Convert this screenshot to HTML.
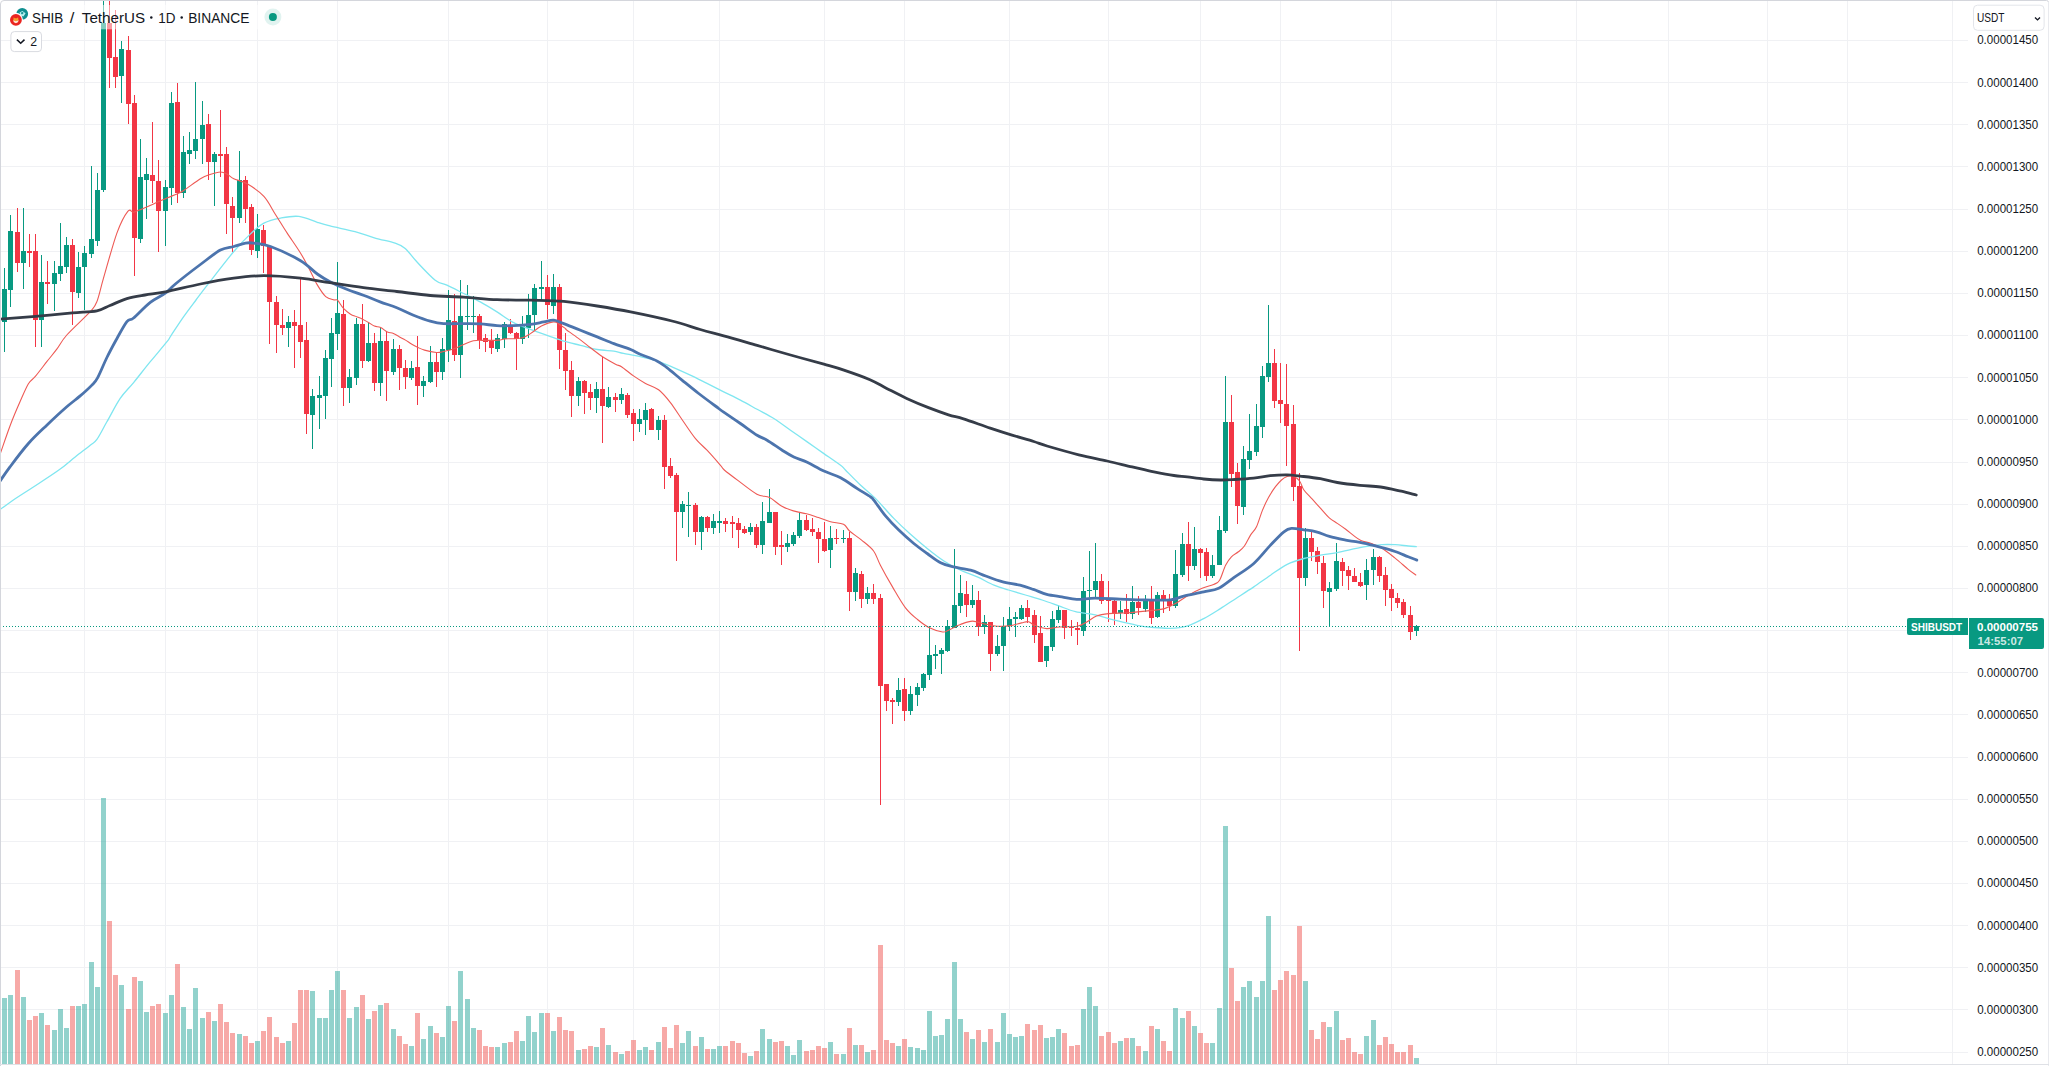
<!DOCTYPE html><html><head><meta charset="utf-8"><title>SHIBUSDT</title>
<style>html,body{margin:0;padding:0;background:#fff;}body{width:2049px;height:1066px;overflow:hidden;position:relative;font-family:"Liberation Sans",sans-serif;}svg{position:absolute;left:0;top:0;display:block}text{font-family:"Liberation Sans",sans-serif;}</style></head><body>
<svg width="2049" height="1066" viewBox="0 0 2049 1066">
<rect width="2049" height="1066" fill="#fff"/>
<g fill="#f0f1f4" shape-rendering="crispEdges">
<rect x="84" y="0" width="1" height="1064"/>
<rect x="165" y="0" width="1" height="1064"/>
<rect x="257" y="0" width="1" height="1064"/>
<rect x="337" y="0" width="1" height="1064"/>
<rect x="448" y="0" width="1" height="1064"/>
<rect x="547" y="0" width="1" height="1064"/>
<rect x="633" y="0" width="1" height="1064"/>
<rect x="719" y="0" width="1" height="1064"/>
<rect x="824" y="0" width="1" height="1064"/>
<rect x="904" y="0" width="1" height="1064"/>
<rect x="1009" y="0" width="1" height="1064"/>
<rect x="1108" y="0" width="1" height="1064"/>
<rect x="1200" y="0" width="1" height="1064"/>
<rect x="1280" y="0" width="1" height="1064"/>
<rect x="1391" y="0" width="1" height="1064"/>
<rect x="1496" y="0" width="1" height="1064"/>
<rect x="1576" y="0" width="1" height="1064"/>
<rect x="1668" y="0" width="1" height="1064"/>
<rect x="1767" y="0" width="1" height="1064"/>
<rect x="1847" y="0" width="1" height="1064"/>
<rect x="1952" y="0" width="1" height="1064"/>
<rect x="0" y="40" width="1968" height="1"/>
<rect x="0" y="82" width="1968" height="1"/>
<rect x="0" y="124" width="1968" height="1"/>
<rect x="0" y="166" width="1968" height="1"/>
<rect x="0" y="209" width="1968" height="1"/>
<rect x="0" y="251" width="1968" height="1"/>
<rect x="0" y="293" width="1968" height="1"/>
<rect x="0" y="335" width="1968" height="1"/>
<rect x="0" y="377" width="1968" height="1"/>
<rect x="0" y="419" width="1968" height="1"/>
<rect x="0" y="462" width="1968" height="1"/>
<rect x="0" y="504" width="1968" height="1"/>
<rect x="0" y="546" width="1968" height="1"/>
<rect x="0" y="588" width="1968" height="1"/>
<rect x="0" y="630" width="1968" height="1"/>
<rect x="0" y="672" width="1968" height="1"/>
<rect x="0" y="714" width="1968" height="1"/>
<rect x="0" y="757" width="1968" height="1"/>
<rect x="0" y="799" width="1968" height="1"/>
<rect x="0" y="841" width="1968" height="1"/>
<rect x="0" y="883" width="1968" height="1"/>
<rect x="0" y="925" width="1968" height="1"/>
<rect x="0" y="967" width="1968" height="1"/>
<rect x="0" y="1009" width="1968" height="1"/>
<rect x="0" y="1052" width="1968" height="1"/>
</g>
<g shape-rendering="crispEdges" fill-opacity="0.5">
<rect x="2" y="998" width="5" height="66" fill="#26a69a"/>
<rect x="8" y="995" width="5" height="69" fill="#26a69a"/>
<rect x="15" y="970" width="5" height="94" fill="#ef5350"/>
<rect x="21" y="997" width="5" height="67" fill="#26a69a"/>
<rect x="27" y="1020" width="5" height="44" fill="#ef5350"/>
<rect x="33" y="1016" width="5" height="48" fill="#ef5350"/>
<rect x="39" y="1013" width="5" height="51" fill="#26a69a"/>
<rect x="45" y="1025" width="5" height="39" fill="#ef5350"/>
<rect x="52" y="1030" width="5" height="34" fill="#26a69a"/>
<rect x="58" y="1009" width="5" height="55" fill="#26a69a"/>
<rect x="64" y="1028" width="5" height="36" fill="#26a69a"/>
<rect x="70" y="1006" width="5" height="58" fill="#ef5350"/>
<rect x="76" y="1006" width="5" height="58" fill="#26a69a"/>
<rect x="82" y="1004" width="5" height="60" fill="#26a69a"/>
<rect x="89" y="962" width="5" height="102" fill="#26a69a"/>
<rect x="95" y="987" width="5" height="77" fill="#26a69a"/>
<rect x="101" y="798" width="5" height="266" fill="#26a69a"/>
<rect x="107" y="921" width="5" height="143" fill="#ef5350"/>
<rect x="113" y="975" width="5" height="89" fill="#ef5350"/>
<rect x="119" y="985" width="5" height="79" fill="#26a69a"/>
<rect x="126" y="1009" width="5" height="55" fill="#ef5350"/>
<rect x="132" y="977" width="5" height="87" fill="#ef5350"/>
<rect x="138" y="981" width="5" height="83" fill="#26a69a"/>
<rect x="144" y="1012" width="5" height="52" fill="#26a69a"/>
<rect x="150" y="1006" width="5" height="58" fill="#ef5350"/>
<rect x="156" y="1004" width="5" height="60" fill="#ef5350"/>
<rect x="163" y="1013" width="5" height="51" fill="#26a69a"/>
<rect x="169" y="995" width="5" height="69" fill="#26a69a"/>
<rect x="175" y="964" width="5" height="100" fill="#ef5350"/>
<rect x="181" y="1007" width="5" height="57" fill="#26a69a"/>
<rect x="187" y="1029" width="5" height="35" fill="#26a69a"/>
<rect x="193" y="988" width="5" height="76" fill="#26a69a"/>
<rect x="200" y="1018" width="5" height="46" fill="#26a69a"/>
<rect x="206" y="1012" width="5" height="52" fill="#ef5350"/>
<rect x="212" y="1021" width="5" height="43" fill="#26a69a"/>
<rect x="218" y="1004" width="5" height="60" fill="#ef5350"/>
<rect x="224" y="1022" width="5" height="42" fill="#ef5350"/>
<rect x="230" y="1033" width="5" height="31" fill="#ef5350"/>
<rect x="237" y="1034" width="5" height="30" fill="#26a69a"/>
<rect x="243" y="1036" width="5" height="28" fill="#ef5350"/>
<rect x="249" y="1043" width="5" height="21" fill="#ef5350"/>
<rect x="255" y="1041" width="5" height="23" fill="#26a69a"/>
<rect x="261" y="1031" width="5" height="33" fill="#ef5350"/>
<rect x="267" y="1017" width="5" height="47" fill="#ef5350"/>
<rect x="274" y="1037" width="5" height="27" fill="#ef5350"/>
<rect x="280" y="1043" width="5" height="21" fill="#ef5350"/>
<rect x="286" y="1041" width="5" height="23" fill="#26a69a"/>
<rect x="292" y="1023" width="5" height="41" fill="#ef5350"/>
<rect x="298" y="990" width="5" height="74" fill="#ef5350"/>
<rect x="304" y="990" width="5" height="74" fill="#ef5350"/>
<rect x="310" y="991" width="5" height="73" fill="#26a69a"/>
<rect x="317" y="1018" width="5" height="46" fill="#26a69a"/>
<rect x="323" y="1018" width="5" height="46" fill="#26a69a"/>
<rect x="329" y="990" width="5" height="74" fill="#26a69a"/>
<rect x="335" y="971" width="5" height="93" fill="#26a69a"/>
<rect x="341" y="990" width="5" height="74" fill="#ef5350"/>
<rect x="347" y="1018" width="5" height="46" fill="#26a69a"/>
<rect x="354" y="1007" width="5" height="57" fill="#26a69a"/>
<rect x="360" y="995" width="5" height="69" fill="#ef5350"/>
<rect x="366" y="1019" width="5" height="45" fill="#26a69a"/>
<rect x="372" y="1011" width="5" height="53" fill="#ef5350"/>
<rect x="378" y="1005" width="5" height="59" fill="#26a69a"/>
<rect x="384" y="1003" width="5" height="61" fill="#ef5350"/>
<rect x="391" y="1029" width="5" height="35" fill="#26a69a"/>
<rect x="397" y="1036" width="5" height="28" fill="#ef5350"/>
<rect x="403" y="1044" width="5" height="20" fill="#ef5350"/>
<rect x="409" y="1046" width="5" height="18" fill="#26a69a"/>
<rect x="415" y="1013" width="5" height="51" fill="#ef5350"/>
<rect x="421" y="1039" width="5" height="25" fill="#26a69a"/>
<rect x="428" y="1026" width="5" height="38" fill="#26a69a"/>
<rect x="434" y="1033" width="5" height="31" fill="#ef5350"/>
<rect x="440" y="1037" width="5" height="27" fill="#26a69a"/>
<rect x="446" y="1006" width="5" height="58" fill="#26a69a"/>
<rect x="452" y="1021" width="5" height="43" fill="#ef5350"/>
<rect x="458" y="971" width="5" height="93" fill="#26a69a"/>
<rect x="465" y="999" width="5" height="65" fill="#26a69a"/>
<rect x="471" y="1028" width="5" height="36" fill="#26a69a"/>
<rect x="477" y="1030" width="5" height="34" fill="#ef5350"/>
<rect x="483" y="1046" width="5" height="18" fill="#ef5350"/>
<rect x="489" y="1047" width="5" height="17" fill="#ef5350"/>
<rect x="495" y="1047" width="5" height="17" fill="#26a69a"/>
<rect x="502" y="1043" width="5" height="21" fill="#26a69a"/>
<rect x="508" y="1042" width="5" height="22" fill="#ef5350"/>
<rect x="514" y="1031" width="5" height="33" fill="#ef5350"/>
<rect x="520" y="1041" width="5" height="23" fill="#26a69a"/>
<rect x="526" y="1016" width="5" height="48" fill="#26a69a"/>
<rect x="532" y="1032" width="5" height="32" fill="#26a69a"/>
<rect x="539" y="1013" width="5" height="51" fill="#26a69a"/>
<rect x="545" y="1013" width="5" height="51" fill="#ef5350"/>
<rect x="551" y="1031" width="5" height="33" fill="#26a69a"/>
<rect x="557" y="1017" width="5" height="47" fill="#ef5350"/>
<rect x="563" y="1030" width="5" height="34" fill="#ef5350"/>
<rect x="569" y="1031" width="5" height="33" fill="#ef5350"/>
<rect x="576" y="1050" width="5" height="14" fill="#26a69a"/>
<rect x="582" y="1049" width="5" height="15" fill="#ef5350"/>
<rect x="588" y="1046" width="5" height="18" fill="#ef5350"/>
<rect x="594" y="1047" width="5" height="17" fill="#26a69a"/>
<rect x="600" y="1028" width="5" height="36" fill="#ef5350"/>
<rect x="606" y="1045" width="5" height="19" fill="#26a69a"/>
<rect x="613" y="1052" width="5" height="12" fill="#ef5350"/>
<rect x="619" y="1054" width="5" height="10" fill="#26a69a"/>
<rect x="625" y="1051" width="5" height="13" fill="#ef5350"/>
<rect x="631" y="1040" width="5" height="24" fill="#ef5350"/>
<rect x="637" y="1050" width="5" height="14" fill="#26a69a"/>
<rect x="643" y="1047" width="5" height="17" fill="#26a69a"/>
<rect x="649" y="1050" width="5" height="14" fill="#ef5350"/>
<rect x="656" y="1042" width="5" height="22" fill="#26a69a"/>
<rect x="662" y="1027" width="5" height="37" fill="#ef5350"/>
<rect x="668" y="1048" width="5" height="16" fill="#ef5350"/>
<rect x="674" y="1025" width="5" height="39" fill="#ef5350"/>
<rect x="680" y="1043" width="5" height="21" fill="#26a69a"/>
<rect x="686" y="1031" width="5" height="33" fill="#26a69a"/>
<rect x="693" y="1046" width="5" height="18" fill="#ef5350"/>
<rect x="699" y="1037" width="5" height="27" fill="#26a69a"/>
<rect x="705" y="1049" width="5" height="15" fill="#ef5350"/>
<rect x="711" y="1049" width="5" height="15" fill="#26a69a"/>
<rect x="717" y="1046" width="5" height="18" fill="#26a69a"/>
<rect x="723" y="1046" width="5" height="18" fill="#ef5350"/>
<rect x="730" y="1041" width="5" height="23" fill="#ef5350"/>
<rect x="736" y="1043" width="5" height="21" fill="#ef5350"/>
<rect x="742" y="1053" width="5" height="11" fill="#ef5350"/>
<rect x="748" y="1056" width="5" height="8" fill="#26a69a"/>
<rect x="754" y="1051" width="5" height="13" fill="#ef5350"/>
<rect x="760" y="1029" width="5" height="35" fill="#26a69a"/>
<rect x="767" y="1039" width="5" height="25" fill="#26a69a"/>
<rect x="773" y="1042" width="5" height="22" fill="#ef5350"/>
<rect x="779" y="1041" width="5" height="23" fill="#ef5350"/>
<rect x="785" y="1046" width="5" height="18" fill="#26a69a"/>
<rect x="791" y="1055" width="5" height="9" fill="#26a69a"/>
<rect x="797" y="1040" width="5" height="24" fill="#26a69a"/>
<rect x="804" y="1051" width="5" height="13" fill="#ef5350"/>
<rect x="810" y="1050" width="5" height="14" fill="#ef5350"/>
<rect x="816" y="1046" width="5" height="18" fill="#ef5350"/>
<rect x="822" y="1048" width="5" height="16" fill="#ef5350"/>
<rect x="828" y="1042" width="5" height="22" fill="#26a69a"/>
<rect x="834" y="1054" width="5" height="10" fill="#ef5350"/>
<rect x="841" y="1054" width="5" height="10" fill="#26a69a"/>
<rect x="847" y="1028" width="5" height="36" fill="#ef5350"/>
<rect x="853" y="1045" width="5" height="19" fill="#26a69a"/>
<rect x="859" y="1045" width="5" height="19" fill="#ef5350"/>
<rect x="865" y="1052" width="5" height="12" fill="#26a69a"/>
<rect x="871" y="1050" width="5" height="14" fill="#ef5350"/>
<rect x="878" y="945" width="5" height="119" fill="#ef5350"/>
<rect x="884" y="1040" width="5" height="24" fill="#ef5350"/>
<rect x="890" y="1043" width="5" height="21" fill="#ef5350"/>
<rect x="896" y="1046" width="5" height="18" fill="#26a69a"/>
<rect x="902" y="1039" width="5" height="25" fill="#ef5350"/>
<rect x="908" y="1047" width="5" height="17" fill="#26a69a"/>
<rect x="915" y="1048" width="5" height="16" fill="#26a69a"/>
<rect x="921" y="1050" width="5" height="14" fill="#26a69a"/>
<rect x="927" y="1011" width="5" height="53" fill="#26a69a"/>
<rect x="933" y="1036" width="5" height="28" fill="#26a69a"/>
<rect x="939" y="1035" width="5" height="29" fill="#26a69a"/>
<rect x="945" y="1019" width="5" height="45" fill="#26a69a"/>
<rect x="952" y="962" width="5" height="102" fill="#26a69a"/>
<rect x="958" y="1019" width="5" height="45" fill="#26a69a"/>
<rect x="964" y="1032" width="5" height="32" fill="#ef5350"/>
<rect x="970" y="1039" width="5" height="25" fill="#26a69a"/>
<rect x="976" y="1030" width="5" height="34" fill="#ef5350"/>
<rect x="982" y="1042" width="5" height="22" fill="#26a69a"/>
<rect x="988" y="1029" width="5" height="35" fill="#ef5350"/>
<rect x="995" y="1042" width="5" height="22" fill="#26a69a"/>
<rect x="1001" y="1013" width="5" height="51" fill="#26a69a"/>
<rect x="1007" y="1034" width="5" height="30" fill="#26a69a"/>
<rect x="1013" y="1037" width="5" height="27" fill="#26a69a"/>
<rect x="1019" y="1036" width="5" height="28" fill="#26a69a"/>
<rect x="1025" y="1024" width="5" height="40" fill="#ef5350"/>
<rect x="1032" y="1030" width="5" height="34" fill="#ef5350"/>
<rect x="1038" y="1025" width="5" height="39" fill="#ef5350"/>
<rect x="1044" y="1038" width="5" height="26" fill="#26a69a"/>
<rect x="1050" y="1037" width="5" height="27" fill="#26a69a"/>
<rect x="1056" y="1029" width="5" height="35" fill="#26a69a"/>
<rect x="1062" y="1033" width="5" height="31" fill="#ef5350"/>
<rect x="1069" y="1046" width="5" height="18" fill="#ef5350"/>
<rect x="1075" y="1045" width="5" height="19" fill="#ef5350"/>
<rect x="1081" y="1009" width="5" height="55" fill="#26a69a"/>
<rect x="1087" y="987" width="5" height="77" fill="#26a69a"/>
<rect x="1093" y="1006" width="5" height="58" fill="#26a69a"/>
<rect x="1099" y="1036" width="5" height="28" fill="#ef5350"/>
<rect x="1106" y="1032" width="5" height="32" fill="#ef5350"/>
<rect x="1112" y="1043" width="5" height="21" fill="#ef5350"/>
<rect x="1118" y="1041" width="5" height="23" fill="#26a69a"/>
<rect x="1124" y="1038" width="5" height="26" fill="#ef5350"/>
<rect x="1130" y="1038" width="5" height="26" fill="#26a69a"/>
<rect x="1136" y="1046" width="5" height="18" fill="#ef5350"/>
<rect x="1143" y="1051" width="5" height="13" fill="#26a69a"/>
<rect x="1149" y="1026" width="5" height="38" fill="#ef5350"/>
<rect x="1155" y="1029" width="5" height="35" fill="#26a69a"/>
<rect x="1161" y="1041" width="5" height="23" fill="#ef5350"/>
<rect x="1167" y="1051" width="5" height="13" fill="#ef5350"/>
<rect x="1173" y="1008" width="5" height="56" fill="#26a69a"/>
<rect x="1180" y="1018" width="5" height="46" fill="#26a69a"/>
<rect x="1186" y="1011" width="5" height="53" fill="#ef5350"/>
<rect x="1192" y="1026" width="5" height="38" fill="#26a69a"/>
<rect x="1198" y="1033" width="5" height="31" fill="#ef5350"/>
<rect x="1204" y="1043" width="5" height="21" fill="#ef5350"/>
<rect x="1210" y="1043" width="5" height="21" fill="#26a69a"/>
<rect x="1217" y="1008" width="5" height="56" fill="#26a69a"/>
<rect x="1223" y="826" width="5" height="238" fill="#26a69a"/>
<rect x="1229" y="968" width="5" height="96" fill="#ef5350"/>
<rect x="1235" y="1001" width="5" height="63" fill="#ef5350"/>
<rect x="1241" y="987" width="5" height="77" fill="#26a69a"/>
<rect x="1247" y="981" width="5" height="83" fill="#26a69a"/>
<rect x="1254" y="997" width="5" height="67" fill="#26a69a"/>
<rect x="1260" y="981" width="5" height="83" fill="#26a69a"/>
<rect x="1266" y="916" width="5" height="148" fill="#26a69a"/>
<rect x="1272" y="990" width="5" height="74" fill="#ef5350"/>
<rect x="1278" y="980" width="5" height="84" fill="#ef5350"/>
<rect x="1284" y="971" width="5" height="93" fill="#ef5350"/>
<rect x="1291" y="975" width="5" height="89" fill="#ef5350"/>
<rect x="1297" y="926" width="5" height="138" fill="#ef5350"/>
<rect x="1303" y="981" width="5" height="83" fill="#26a69a"/>
<rect x="1309" y="1030" width="5" height="34" fill="#ef5350"/>
<rect x="1315" y="1039" width="5" height="25" fill="#ef5350"/>
<rect x="1321" y="1022" width="5" height="42" fill="#ef5350"/>
<rect x="1327" y="1027" width="5" height="37" fill="#26a69a"/>
<rect x="1334" y="1011" width="5" height="53" fill="#26a69a"/>
<rect x="1340" y="1040" width="5" height="24" fill="#ef5350"/>
<rect x="1346" y="1038" width="5" height="26" fill="#ef5350"/>
<rect x="1352" y="1052" width="5" height="12" fill="#ef5350"/>
<rect x="1358" y="1054" width="5" height="10" fill="#ef5350"/>
<rect x="1364" y="1036" width="5" height="28" fill="#26a69a"/>
<rect x="1371" y="1020" width="5" height="44" fill="#26a69a"/>
<rect x="1377" y="1045" width="5" height="19" fill="#ef5350"/>
<rect x="1383" y="1037" width="5" height="27" fill="#ef5350"/>
<rect x="1389" y="1044" width="5" height="20" fill="#ef5350"/>
<rect x="1395" y="1052" width="5" height="12" fill="#ef5350"/>
<rect x="1401" y="1052" width="5" height="12" fill="#ef5350"/>
<rect x="1408" y="1045" width="5" height="19" fill="#ef5350"/>
<rect x="1414" y="1058" width="5" height="6" fill="#26a69a"/>
</g>
<g shape-rendering="crispEdges">
<rect x="4" y="268" width="1" height="84" fill="#089981"/>
<rect x="2" y="289" width="5" height="33" fill="#089981"/>
<rect x="10" y="215" width="1" height="92" fill="#089981"/>
<rect x="8" y="231" width="5" height="59" fill="#089981"/>
<rect x="17" y="208" width="1" height="64" fill="#f23645"/>
<rect x="15" y="232" width="5" height="31" fill="#f23645"/>
<rect x="23" y="208" width="1" height="81" fill="#089981"/>
<rect x="21" y="251" width="5" height="12" fill="#089981"/>
<rect x="29" y="234" width="1" height="33" fill="#f23645"/>
<rect x="27" y="251" width="5" height="2" fill="#f23645"/>
<rect x="35" y="234" width="1" height="113" fill="#f23645"/>
<rect x="33" y="251" width="5" height="69" fill="#f23645"/>
<rect x="41" y="255" width="1" height="92" fill="#089981"/>
<rect x="39" y="282" width="5" height="38" fill="#089981"/>
<rect x="47" y="261" width="1" height="43" fill="#f23645"/>
<rect x="45" y="282" width="5" height="2" fill="#f23645"/>
<rect x="54" y="261" width="1" height="50" fill="#089981"/>
<rect x="52" y="273" width="5" height="11" fill="#089981"/>
<rect x="60" y="223" width="1" height="58" fill="#089981"/>
<rect x="58" y="266" width="5" height="8" fill="#089981"/>
<rect x="66" y="237" width="1" height="36" fill="#089981"/>
<rect x="64" y="245" width="5" height="22" fill="#089981"/>
<rect x="72" y="239" width="1" height="86" fill="#f23645"/>
<rect x="70" y="245" width="5" height="47" fill="#f23645"/>
<rect x="78" y="252" width="1" height="46" fill="#089981"/>
<rect x="76" y="267" width="5" height="26" fill="#089981"/>
<rect x="84" y="246" width="1" height="64" fill="#089981"/>
<rect x="82" y="253" width="5" height="14" fill="#089981"/>
<rect x="91" y="166" width="1" height="92" fill="#089981"/>
<rect x="89" y="239" width="5" height="15" fill="#089981"/>
<rect x="97" y="173" width="1" height="73" fill="#089981"/>
<rect x="95" y="190" width="5" height="51" fill="#089981"/>
<rect x="103" y="0" width="1" height="192" fill="#089981"/>
<rect x="101" y="23" width="5" height="167" fill="#089981"/>
<rect x="109" y="0" width="1" height="88" fill="#f23645"/>
<rect x="107" y="23" width="5" height="35" fill="#f23645"/>
<rect x="115" y="10" width="1" height="78" fill="#f23645"/>
<rect x="113" y="57" width="5" height="20" fill="#f23645"/>
<rect x="121" y="41" width="1" height="62" fill="#089981"/>
<rect x="119" y="49" width="5" height="27" fill="#089981"/>
<rect x="128" y="36" width="1" height="88" fill="#f23645"/>
<rect x="126" y="50" width="5" height="54" fill="#f23645"/>
<rect x="134" y="95" width="1" height="181" fill="#f23645"/>
<rect x="132" y="103" width="5" height="135" fill="#f23645"/>
<rect x="140" y="139" width="1" height="104" fill="#089981"/>
<rect x="138" y="177" width="5" height="62" fill="#089981"/>
<rect x="146" y="158" width="1" height="61" fill="#089981"/>
<rect x="144" y="174" width="5" height="6" fill="#089981"/>
<rect x="152" y="122" width="1" height="81" fill="#f23645"/>
<rect x="150" y="175" width="5" height="6" fill="#f23645"/>
<rect x="158" y="160" width="1" height="92" fill="#f23645"/>
<rect x="156" y="181" width="5" height="30" fill="#f23645"/>
<rect x="165" y="180" width="1" height="66" fill="#089981"/>
<rect x="163" y="187" width="5" height="24" fill="#089981"/>
<rect x="171" y="92" width="1" height="113" fill="#089981"/>
<rect x="169" y="103" width="5" height="85" fill="#089981"/>
<rect x="177" y="83" width="1" height="120" fill="#f23645"/>
<rect x="175" y="102" width="5" height="91" fill="#f23645"/>
<rect x="183" y="136" width="1" height="62" fill="#089981"/>
<rect x="181" y="152" width="5" height="41" fill="#089981"/>
<rect x="189" y="132" width="1" height="32" fill="#089981"/>
<rect x="187" y="150" width="5" height="4" fill="#089981"/>
<rect x="195" y="82" width="1" height="77" fill="#089981"/>
<rect x="193" y="139" width="5" height="12" fill="#089981"/>
<rect x="202" y="101" width="1" height="63" fill="#089981"/>
<rect x="200" y="125" width="5" height="14" fill="#089981"/>
<rect x="208" y="114" width="1" height="66" fill="#f23645"/>
<rect x="206" y="124" width="5" height="38" fill="#f23645"/>
<rect x="214" y="152" width="1" height="54" fill="#089981"/>
<rect x="212" y="154" width="5" height="8" fill="#089981"/>
<rect x="220" y="110" width="1" height="67" fill="#f23645"/>
<rect x="218" y="154" width="5" height="2" fill="#f23645"/>
<rect x="226" y="147" width="1" height="87" fill="#f23645"/>
<rect x="224" y="154" width="5" height="50" fill="#f23645"/>
<rect x="232" y="197" width="1" height="55" fill="#f23645"/>
<rect x="230" y="206" width="5" height="12" fill="#f23645"/>
<rect x="239" y="151" width="1" height="72" fill="#089981"/>
<rect x="237" y="180" width="5" height="38" fill="#089981"/>
<rect x="245" y="176" width="1" height="47" fill="#f23645"/>
<rect x="243" y="180" width="5" height="29" fill="#f23645"/>
<rect x="251" y="204" width="1" height="51" fill="#f23645"/>
<rect x="249" y="207" width="5" height="43" fill="#f23645"/>
<rect x="257" y="214" width="1" height="44" fill="#089981"/>
<rect x="255" y="229" width="5" height="22" fill="#089981"/>
<rect x="263" y="225" width="1" height="48" fill="#f23645"/>
<rect x="261" y="230" width="5" height="16" fill="#f23645"/>
<rect x="269" y="245" width="1" height="99" fill="#f23645"/>
<rect x="267" y="246" width="5" height="56" fill="#f23645"/>
<rect x="276" y="296" width="1" height="57" fill="#f23645"/>
<rect x="274" y="302" width="5" height="23" fill="#f23645"/>
<rect x="282" y="309" width="1" height="26" fill="#f23645"/>
<rect x="280" y="325" width="5" height="3" fill="#f23645"/>
<rect x="288" y="316" width="1" height="31" fill="#089981"/>
<rect x="286" y="322" width="5" height="6" fill="#089981"/>
<rect x="294" y="310" width="1" height="58" fill="#f23645"/>
<rect x="292" y="322" width="5" height="4" fill="#f23645"/>
<rect x="300" y="278" width="1" height="80" fill="#f23645"/>
<rect x="298" y="325" width="5" height="17" fill="#f23645"/>
<rect x="306" y="322" width="1" height="112" fill="#f23645"/>
<rect x="304" y="340" width="5" height="74" fill="#f23645"/>
<rect x="312" y="389" width="1" height="60" fill="#089981"/>
<rect x="310" y="396" width="5" height="19" fill="#089981"/>
<rect x="319" y="376" width="1" height="53" fill="#089981"/>
<rect x="317" y="395" width="5" height="3" fill="#089981"/>
<rect x="325" y="350" width="1" height="69" fill="#089981"/>
<rect x="323" y="358" width="5" height="38" fill="#089981"/>
<rect x="331" y="318" width="1" height="69" fill="#089981"/>
<rect x="329" y="333" width="5" height="26" fill="#089981"/>
<rect x="337" y="262" width="1" height="88" fill="#089981"/>
<rect x="335" y="313" width="5" height="21" fill="#089981"/>
<rect x="343" y="300" width="1" height="106" fill="#f23645"/>
<rect x="341" y="314" width="5" height="74" fill="#f23645"/>
<rect x="349" y="369" width="1" height="34" fill="#089981"/>
<rect x="347" y="377" width="5" height="11" fill="#089981"/>
<rect x="356" y="318" width="1" height="67" fill="#089981"/>
<rect x="354" y="324" width="5" height="54" fill="#089981"/>
<rect x="362" y="304" width="1" height="64" fill="#f23645"/>
<rect x="360" y="324" width="5" height="37" fill="#f23645"/>
<rect x="368" y="322" width="1" height="40" fill="#089981"/>
<rect x="366" y="343" width="5" height="18" fill="#089981"/>
<rect x="374" y="333" width="1" height="58" fill="#f23645"/>
<rect x="372" y="343" width="5" height="40" fill="#f23645"/>
<rect x="380" y="328" width="1" height="68" fill="#089981"/>
<rect x="378" y="341" width="5" height="42" fill="#089981"/>
<rect x="386" y="332" width="1" height="69" fill="#f23645"/>
<rect x="384" y="341" width="5" height="30" fill="#f23645"/>
<rect x="393" y="339" width="1" height="36" fill="#089981"/>
<rect x="391" y="349" width="5" height="23" fill="#089981"/>
<rect x="399" y="345" width="1" height="45" fill="#f23645"/>
<rect x="397" y="349" width="5" height="19" fill="#f23645"/>
<rect x="405" y="360" width="1" height="29" fill="#f23645"/>
<rect x="403" y="368" width="5" height="9" fill="#f23645"/>
<rect x="411" y="361" width="1" height="19" fill="#089981"/>
<rect x="409" y="368" width="5" height="10" fill="#089981"/>
<rect x="417" y="336" width="1" height="69" fill="#f23645"/>
<rect x="415" y="367" width="5" height="19" fill="#f23645"/>
<rect x="423" y="376" width="1" height="21" fill="#089981"/>
<rect x="421" y="381" width="5" height="5" fill="#089981"/>
<rect x="430" y="346" width="1" height="37" fill="#089981"/>
<rect x="428" y="362" width="5" height="20" fill="#089981"/>
<rect x="436" y="353" width="1" height="34" fill="#f23645"/>
<rect x="434" y="362" width="5" height="10" fill="#f23645"/>
<rect x="442" y="338" width="1" height="42" fill="#089981"/>
<rect x="440" y="349" width="5" height="23" fill="#089981"/>
<rect x="448" y="290" width="1" height="72" fill="#089981"/>
<rect x="446" y="320" width="5" height="30" fill="#089981"/>
<rect x="454" y="294" width="1" height="67" fill="#f23645"/>
<rect x="452" y="321" width="5" height="34" fill="#f23645"/>
<rect x="460" y="280" width="1" height="98" fill="#089981"/>
<rect x="458" y="316" width="5" height="39" fill="#089981"/>
<rect x="467" y="285" width="1" height="45" fill="#089981"/>
<rect x="465" y="316" width="5" height="1" fill="#089981"/>
<rect x="473" y="296" width="1" height="37" fill="#089981"/>
<rect x="471" y="316" width="5" height="1" fill="#089981"/>
<rect x="479" y="314" width="1" height="35" fill="#f23645"/>
<rect x="477" y="316" width="5" height="24" fill="#f23645"/>
<rect x="485" y="334" width="1" height="18" fill="#f23645"/>
<rect x="483" y="338" width="5" height="4" fill="#f23645"/>
<rect x="491" y="329" width="1" height="25" fill="#f23645"/>
<rect x="489" y="341" width="5" height="7" fill="#f23645"/>
<rect x="497" y="334" width="1" height="18" fill="#089981"/>
<rect x="495" y="338" width="5" height="11" fill="#089981"/>
<rect x="504" y="322" width="1" height="26" fill="#089981"/>
<rect x="502" y="324" width="5" height="15" fill="#089981"/>
<rect x="510" y="319" width="1" height="15" fill="#f23645"/>
<rect x="508" y="325" width="5" height="8" fill="#f23645"/>
<rect x="516" y="332" width="1" height="38" fill="#f23645"/>
<rect x="514" y="333" width="5" height="6" fill="#f23645"/>
<rect x="522" y="316" width="1" height="28" fill="#089981"/>
<rect x="520" y="326" width="5" height="13" fill="#089981"/>
<rect x="528" y="294" width="1" height="44" fill="#089981"/>
<rect x="526" y="315" width="5" height="13" fill="#089981"/>
<rect x="534" y="284" width="1" height="47" fill="#089981"/>
<rect x="532" y="288" width="5" height="27" fill="#089981"/>
<rect x="541" y="261" width="1" height="39" fill="#089981"/>
<rect x="539" y="287" width="5" height="2" fill="#089981"/>
<rect x="547" y="275" width="1" height="44" fill="#f23645"/>
<rect x="545" y="287" width="5" height="18" fill="#f23645"/>
<rect x="553" y="274" width="1" height="40" fill="#089981"/>
<rect x="551" y="287" width="5" height="19" fill="#089981"/>
<rect x="559" y="284" width="1" height="85" fill="#f23645"/>
<rect x="557" y="287" width="5" height="63" fill="#f23645"/>
<rect x="565" y="333" width="1" height="57" fill="#f23645"/>
<rect x="563" y="350" width="5" height="21" fill="#f23645"/>
<rect x="571" y="361" width="1" height="56" fill="#f23645"/>
<rect x="569" y="370" width="5" height="26" fill="#f23645"/>
<rect x="578" y="377" width="1" height="29" fill="#089981"/>
<rect x="576" y="381" width="5" height="15" fill="#089981"/>
<rect x="584" y="380" width="1" height="34" fill="#f23645"/>
<rect x="582" y="381" width="5" height="12" fill="#f23645"/>
<rect x="590" y="384" width="1" height="26" fill="#f23645"/>
<rect x="588" y="392" width="5" height="6" fill="#f23645"/>
<rect x="596" y="382" width="1" height="31" fill="#089981"/>
<rect x="594" y="389" width="5" height="9" fill="#089981"/>
<rect x="602" y="357" width="1" height="86" fill="#f23645"/>
<rect x="600" y="389" width="5" height="17" fill="#f23645"/>
<rect x="608" y="387" width="1" height="21" fill="#089981"/>
<rect x="606" y="397" width="5" height="10" fill="#089981"/>
<rect x="615" y="393" width="1" height="19" fill="#f23645"/>
<rect x="613" y="397" width="5" height="3" fill="#f23645"/>
<rect x="621" y="388" width="1" height="16" fill="#089981"/>
<rect x="619" y="394" width="5" height="6" fill="#089981"/>
<rect x="627" y="393" width="1" height="25" fill="#f23645"/>
<rect x="625" y="395" width="5" height="20" fill="#f23645"/>
<rect x="633" y="409" width="1" height="32" fill="#f23645"/>
<rect x="631" y="413" width="5" height="11" fill="#f23645"/>
<rect x="639" y="409" width="1" height="23" fill="#089981"/>
<rect x="637" y="419" width="5" height="5" fill="#089981"/>
<rect x="645" y="403" width="1" height="32" fill="#089981"/>
<rect x="643" y="410" width="5" height="10" fill="#089981"/>
<rect x="651" y="408" width="1" height="22" fill="#f23645"/>
<rect x="649" y="409" width="5" height="21" fill="#f23645"/>
<rect x="658" y="416" width="1" height="24" fill="#089981"/>
<rect x="656" y="420" width="5" height="10" fill="#089981"/>
<rect x="664" y="415" width="1" height="74" fill="#f23645"/>
<rect x="662" y="420" width="5" height="47" fill="#f23645"/>
<rect x="670" y="458" width="1" height="20" fill="#f23645"/>
<rect x="668" y="466" width="5" height="10" fill="#f23645"/>
<rect x="676" y="473" width="1" height="88" fill="#f23645"/>
<rect x="674" y="475" width="5" height="37" fill="#f23645"/>
<rect x="682" y="501" width="1" height="27" fill="#089981"/>
<rect x="680" y="504" width="5" height="8" fill="#089981"/>
<rect x="688" y="492" width="1" height="45" fill="#089981"/>
<rect x="686" y="505" width="5" height="1" fill="#089981"/>
<rect x="695" y="503" width="1" height="42" fill="#f23645"/>
<rect x="693" y="505" width="5" height="27" fill="#f23645"/>
<rect x="701" y="516" width="1" height="34" fill="#089981"/>
<rect x="699" y="517" width="5" height="15" fill="#089981"/>
<rect x="707" y="516" width="1" height="16" fill="#f23645"/>
<rect x="705" y="517" width="5" height="11" fill="#f23645"/>
<rect x="713" y="514" width="1" height="20" fill="#089981"/>
<rect x="711" y="521" width="5" height="7" fill="#089981"/>
<rect x="719" y="511" width="1" height="22" fill="#089981"/>
<rect x="717" y="521" width="5" height="2" fill="#089981"/>
<rect x="725" y="518" width="1" height="14" fill="#f23645"/>
<rect x="723" y="521" width="5" height="3" fill="#f23645"/>
<rect x="732" y="516" width="1" height="22" fill="#f23645"/>
<rect x="730" y="522" width="5" height="2" fill="#f23645"/>
<rect x="738" y="518" width="1" height="30" fill="#f23645"/>
<rect x="736" y="523" width="5" height="7" fill="#f23645"/>
<rect x="744" y="526" width="1" height="8" fill="#f23645"/>
<rect x="742" y="529" width="5" height="4" fill="#f23645"/>
<rect x="750" y="523" width="1" height="12" fill="#089981"/>
<rect x="748" y="527" width="5" height="5" fill="#089981"/>
<rect x="756" y="524" width="1" height="24" fill="#f23645"/>
<rect x="754" y="527" width="5" height="18" fill="#f23645"/>
<rect x="762" y="502" width="1" height="52" fill="#089981"/>
<rect x="760" y="521" width="5" height="24" fill="#089981"/>
<rect x="769" y="489" width="1" height="34" fill="#089981"/>
<rect x="767" y="512" width="5" height="11" fill="#089981"/>
<rect x="775" y="512" width="1" height="43" fill="#f23645"/>
<rect x="773" y="512" width="5" height="35" fill="#f23645"/>
<rect x="781" y="531" width="1" height="34" fill="#f23645"/>
<rect x="779" y="545" width="5" height="2" fill="#f23645"/>
<rect x="787" y="534" width="1" height="18" fill="#089981"/>
<rect x="785" y="543" width="5" height="4" fill="#089981"/>
<rect x="793" y="532" width="1" height="14" fill="#089981"/>
<rect x="791" y="535" width="5" height="9" fill="#089981"/>
<rect x="799" y="513" width="1" height="25" fill="#089981"/>
<rect x="797" y="520" width="5" height="16" fill="#089981"/>
<rect x="806" y="515" width="1" height="16" fill="#f23645"/>
<rect x="804" y="520" width="5" height="10" fill="#f23645"/>
<rect x="812" y="518" width="1" height="18" fill="#f23645"/>
<rect x="810" y="529" width="5" height="3" fill="#f23645"/>
<rect x="818" y="528" width="1" height="35" fill="#f23645"/>
<rect x="816" y="532" width="5" height="7" fill="#f23645"/>
<rect x="824" y="522" width="1" height="30" fill="#f23645"/>
<rect x="822" y="539" width="5" height="12" fill="#f23645"/>
<rect x="830" y="526" width="1" height="42" fill="#089981"/>
<rect x="828" y="538" width="5" height="12" fill="#089981"/>
<rect x="836" y="529" width="1" height="15" fill="#f23645"/>
<rect x="834" y="538" width="5" height="1" fill="#f23645"/>
<rect x="843" y="530" width="1" height="13" fill="#089981"/>
<rect x="841" y="538" width="5" height="1" fill="#089981"/>
<rect x="849" y="532" width="1" height="79" fill="#f23645"/>
<rect x="847" y="538" width="5" height="54" fill="#f23645"/>
<rect x="855" y="568" width="1" height="33" fill="#089981"/>
<rect x="853" y="573" width="5" height="19" fill="#089981"/>
<rect x="861" y="571" width="1" height="37" fill="#f23645"/>
<rect x="859" y="574" width="5" height="25" fill="#f23645"/>
<rect x="867" y="587" width="1" height="17" fill="#089981"/>
<rect x="865" y="593" width="5" height="6" fill="#089981"/>
<rect x="873" y="584" width="1" height="20" fill="#f23645"/>
<rect x="871" y="593" width="5" height="6" fill="#f23645"/>
<rect x="880" y="594" width="1" height="211" fill="#f23645"/>
<rect x="878" y="598" width="5" height="88" fill="#f23645"/>
<rect x="886" y="684" width="1" height="27" fill="#f23645"/>
<rect x="884" y="684" width="5" height="17" fill="#f23645"/>
<rect x="892" y="698" width="1" height="26" fill="#f23645"/>
<rect x="890" y="700" width="5" height="2" fill="#f23645"/>
<rect x="898" y="678" width="1" height="28" fill="#089981"/>
<rect x="896" y="690" width="5" height="12" fill="#089981"/>
<rect x="904" y="678" width="1" height="43" fill="#f23645"/>
<rect x="902" y="689" width="5" height="22" fill="#f23645"/>
<rect x="910" y="686" width="1" height="29" fill="#089981"/>
<rect x="908" y="694" width="5" height="17" fill="#089981"/>
<rect x="917" y="683" width="1" height="23" fill="#089981"/>
<rect x="915" y="687" width="5" height="8" fill="#089981"/>
<rect x="923" y="673" width="1" height="18" fill="#089981"/>
<rect x="921" y="674" width="5" height="14" fill="#089981"/>
<rect x="929" y="626" width="1" height="54" fill="#089981"/>
<rect x="927" y="655" width="5" height="20" fill="#089981"/>
<rect x="935" y="645" width="1" height="24" fill="#089981"/>
<rect x="933" y="654" width="5" height="2" fill="#089981"/>
<rect x="941" y="648" width="1" height="26" fill="#089981"/>
<rect x="939" y="650" width="5" height="4" fill="#089981"/>
<rect x="947" y="620" width="1" height="32" fill="#089981"/>
<rect x="945" y="626" width="5" height="25" fill="#089981"/>
<rect x="954" y="549" width="1" height="79" fill="#089981"/>
<rect x="952" y="605" width="5" height="23" fill="#089981"/>
<rect x="960" y="575" width="1" height="38" fill="#089981"/>
<rect x="958" y="593" width="5" height="13" fill="#089981"/>
<rect x="966" y="581" width="1" height="36" fill="#f23645"/>
<rect x="964" y="594" width="5" height="11" fill="#f23645"/>
<rect x="972" y="585" width="1" height="23" fill="#089981"/>
<rect x="970" y="600" width="5" height="5" fill="#089981"/>
<rect x="978" y="591" width="1" height="45" fill="#f23645"/>
<rect x="976" y="600" width="5" height="27" fill="#f23645"/>
<rect x="984" y="615" width="1" height="19" fill="#089981"/>
<rect x="982" y="622" width="5" height="5" fill="#089981"/>
<rect x="990" y="622" width="1" height="49" fill="#f23645"/>
<rect x="988" y="622" width="5" height="32" fill="#f23645"/>
<rect x="997" y="635" width="1" height="21" fill="#089981"/>
<rect x="995" y="646" width="5" height="8" fill="#089981"/>
<rect x="1003" y="617" width="1" height="54" fill="#089981"/>
<rect x="1001" y="626" width="5" height="20" fill="#089981"/>
<rect x="1009" y="607" width="1" height="24" fill="#089981"/>
<rect x="1007" y="619" width="5" height="7" fill="#089981"/>
<rect x="1015" y="612" width="1" height="25" fill="#089981"/>
<rect x="1013" y="617" width="5" height="2" fill="#089981"/>
<rect x="1021" y="605" width="1" height="15" fill="#089981"/>
<rect x="1019" y="608" width="5" height="11" fill="#089981"/>
<rect x="1027" y="600" width="1" height="23" fill="#f23645"/>
<rect x="1025" y="608" width="5" height="9" fill="#f23645"/>
<rect x="1034" y="610" width="1" height="33" fill="#f23645"/>
<rect x="1032" y="615" width="5" height="20" fill="#f23645"/>
<rect x="1040" y="616" width="1" height="46" fill="#f23645"/>
<rect x="1038" y="633" width="5" height="29" fill="#f23645"/>
<rect x="1046" y="646" width="1" height="21" fill="#089981"/>
<rect x="1044" y="646" width="5" height="15" fill="#089981"/>
<rect x="1052" y="611" width="1" height="40" fill="#089981"/>
<rect x="1050" y="619" width="5" height="28" fill="#089981"/>
<rect x="1058" y="605" width="1" height="18" fill="#089981"/>
<rect x="1056" y="610" width="5" height="10" fill="#089981"/>
<rect x="1064" y="610" width="1" height="29" fill="#f23645"/>
<rect x="1062" y="610" width="5" height="18" fill="#f23645"/>
<rect x="1071" y="620" width="1" height="16" fill="#f23645"/>
<rect x="1069" y="627" width="5" height="1" fill="#f23645"/>
<rect x="1077" y="622" width="1" height="23" fill="#f23645"/>
<rect x="1075" y="628" width="5" height="2" fill="#f23645"/>
<rect x="1083" y="577" width="1" height="59" fill="#089981"/>
<rect x="1081" y="591" width="5" height="40" fill="#089981"/>
<rect x="1089" y="551" width="1" height="73" fill="#089981"/>
<rect x="1087" y="590" width="5" height="1" fill="#089981"/>
<rect x="1095" y="543" width="1" height="54" fill="#089981"/>
<rect x="1093" y="581" width="5" height="9" fill="#089981"/>
<rect x="1101" y="574" width="1" height="30" fill="#f23645"/>
<rect x="1099" y="581" width="5" height="20" fill="#f23645"/>
<rect x="1108" y="581" width="1" height="41" fill="#f23645"/>
<rect x="1106" y="600" width="5" height="1" fill="#f23645"/>
<rect x="1114" y="598" width="1" height="27" fill="#f23645"/>
<rect x="1112" y="601" width="5" height="13" fill="#f23645"/>
<rect x="1120" y="601" width="1" height="18" fill="#089981"/>
<rect x="1118" y="610" width="5" height="3" fill="#089981"/>
<rect x="1126" y="594" width="1" height="28" fill="#f23645"/>
<rect x="1124" y="609" width="5" height="5" fill="#f23645"/>
<rect x="1132" y="586" width="1" height="33" fill="#089981"/>
<rect x="1130" y="602" width="5" height="12" fill="#089981"/>
<rect x="1138" y="596" width="1" height="19" fill="#f23645"/>
<rect x="1136" y="602" width="5" height="6" fill="#f23645"/>
<rect x="1145" y="595" width="1" height="17" fill="#089981"/>
<rect x="1143" y="601" width="5" height="8" fill="#089981"/>
<rect x="1151" y="586" width="1" height="38" fill="#f23645"/>
<rect x="1149" y="600" width="5" height="18" fill="#f23645"/>
<rect x="1157" y="592" width="1" height="26" fill="#089981"/>
<rect x="1155" y="595" width="5" height="22" fill="#089981"/>
<rect x="1163" y="590" width="1" height="23" fill="#f23645"/>
<rect x="1161" y="595" width="5" height="6" fill="#f23645"/>
<rect x="1169" y="594" width="1" height="17" fill="#f23645"/>
<rect x="1167" y="600" width="5" height="6" fill="#f23645"/>
<rect x="1175" y="550" width="1" height="58" fill="#089981"/>
<rect x="1173" y="574" width="5" height="32" fill="#089981"/>
<rect x="1182" y="533" width="1" height="44" fill="#089981"/>
<rect x="1180" y="544" width="5" height="31" fill="#089981"/>
<rect x="1188" y="522" width="1" height="59" fill="#f23645"/>
<rect x="1186" y="544" width="5" height="22" fill="#f23645"/>
<rect x="1194" y="527" width="1" height="43" fill="#089981"/>
<rect x="1192" y="549" width="5" height="17" fill="#089981"/>
<rect x="1200" y="548" width="1" height="30" fill="#f23645"/>
<rect x="1198" y="549" width="5" height="4" fill="#f23645"/>
<rect x="1206" y="548" width="1" height="33" fill="#f23645"/>
<rect x="1204" y="552" width="5" height="24" fill="#f23645"/>
<rect x="1212" y="555" width="1" height="23" fill="#089981"/>
<rect x="1210" y="565" width="5" height="11" fill="#089981"/>
<rect x="1219" y="516" width="1" height="49" fill="#089981"/>
<rect x="1217" y="530" width="5" height="35" fill="#089981"/>
<rect x="1225" y="376" width="1" height="157" fill="#089981"/>
<rect x="1223" y="422" width="5" height="109" fill="#089981"/>
<rect x="1231" y="395" width="1" height="92" fill="#f23645"/>
<rect x="1229" y="422" width="5" height="52" fill="#f23645"/>
<rect x="1237" y="463" width="1" height="61" fill="#f23645"/>
<rect x="1235" y="472" width="5" height="34" fill="#f23645"/>
<rect x="1243" y="446" width="1" height="69" fill="#089981"/>
<rect x="1241" y="459" width="5" height="48" fill="#089981"/>
<rect x="1249" y="414" width="1" height="55" fill="#089981"/>
<rect x="1247" y="451" width="5" height="9" fill="#089981"/>
<rect x="1256" y="404" width="1" height="52" fill="#089981"/>
<rect x="1254" y="426" width="5" height="26" fill="#089981"/>
<rect x="1262" y="366" width="1" height="72" fill="#089981"/>
<rect x="1260" y="376" width="5" height="51" fill="#089981"/>
<rect x="1268" y="305" width="1" height="77" fill="#089981"/>
<rect x="1266" y="363" width="5" height="14" fill="#089981"/>
<rect x="1274" y="349" width="1" height="59" fill="#f23645"/>
<rect x="1272" y="363" width="5" height="38" fill="#f23645"/>
<rect x="1280" y="363" width="1" height="60" fill="#f23645"/>
<rect x="1278" y="400" width="5" height="4" fill="#f23645"/>
<rect x="1286" y="364" width="1" height="102" fill="#f23645"/>
<rect x="1284" y="404" width="5" height="22" fill="#f23645"/>
<rect x="1293" y="405" width="1" height="96" fill="#f23645"/>
<rect x="1291" y="424" width="5" height="63" fill="#f23645"/>
<rect x="1299" y="473" width="1" height="178" fill="#f23645"/>
<rect x="1297" y="486" width="5" height="92" fill="#f23645"/>
<rect x="1305" y="528" width="1" height="58" fill="#089981"/>
<rect x="1303" y="538" width="5" height="40" fill="#089981"/>
<rect x="1311" y="530" width="1" height="31" fill="#f23645"/>
<rect x="1309" y="538" width="5" height="14" fill="#f23645"/>
<rect x="1317" y="547" width="1" height="27" fill="#f23645"/>
<rect x="1315" y="551" width="5" height="11" fill="#f23645"/>
<rect x="1323" y="556" width="1" height="52" fill="#f23645"/>
<rect x="1321" y="563" width="5" height="28" fill="#f23645"/>
<rect x="1329" y="582" width="1" height="44" fill="#089981"/>
<rect x="1327" y="588" width="5" height="4" fill="#089981"/>
<rect x="1336" y="543" width="1" height="48" fill="#089981"/>
<rect x="1334" y="561" width="5" height="28" fill="#089981"/>
<rect x="1342" y="558" width="1" height="28" fill="#f23645"/>
<rect x="1340" y="562" width="5" height="9" fill="#f23645"/>
<rect x="1348" y="566" width="1" height="24" fill="#f23645"/>
<rect x="1346" y="570" width="5" height="6" fill="#f23645"/>
<rect x="1354" y="568" width="1" height="14" fill="#f23645"/>
<rect x="1352" y="576" width="5" height="6" fill="#f23645"/>
<rect x="1360" y="573" width="1" height="14" fill="#f23645"/>
<rect x="1358" y="582" width="5" height="4" fill="#f23645"/>
<rect x="1366" y="559" width="1" height="41" fill="#089981"/>
<rect x="1364" y="570" width="5" height="15" fill="#089981"/>
<rect x="1373" y="549" width="1" height="36" fill="#089981"/>
<rect x="1371" y="557" width="5" height="13" fill="#089981"/>
<rect x="1379" y="556" width="1" height="26" fill="#f23645"/>
<rect x="1377" y="557" width="5" height="19" fill="#f23645"/>
<rect x="1385" y="567" width="1" height="39" fill="#f23645"/>
<rect x="1383" y="575" width="5" height="15" fill="#f23645"/>
<rect x="1391" y="584" width="1" height="27" fill="#f23645"/>
<rect x="1389" y="589" width="5" height="9" fill="#f23645"/>
<rect x="1397" y="593" width="1" height="15" fill="#f23645"/>
<rect x="1395" y="598" width="5" height="5" fill="#f23645"/>
<rect x="1403" y="599" width="1" height="19" fill="#f23645"/>
<rect x="1401" y="602" width="5" height="13" fill="#f23645"/>
<rect x="1410" y="606" width="1" height="34" fill="#f23645"/>
<rect x="1408" y="615" width="5" height="17" fill="#f23645"/>
<rect x="1416" y="625" width="1" height="11" fill="#089981"/>
<rect x="1414" y="626" width="5" height="5" fill="#089981"/>
</g>
<g fill="none" stroke-linejoin="round" stroke-linecap="round">
<path d="M0.0 509.5 C2.8 507.6 11.1 501.6 16.7 497.8 C22.3 494.1 26.4 491.6 33.4 487.0 C40.4 482.4 51.5 475.3 58.5 470.3 C65.5 465.3 69.9 461.1 75.2 456.9 C80.5 452.7 86.6 448.1 90.2 445.2 C93.8 442.3 94.1 443.3 96.9 439.4 C99.7 435.5 103.0 428.6 106.9 421.8 C110.8 415.0 115.8 404.9 120.2 398.4 C124.7 391.9 128.6 388.7 133.6 382.6 C138.6 376.5 144.7 368.5 150.3 361.7 C155.9 354.9 163.6 346.0 167.0 341.7 C170.4 337.4 168.2 339.8 171.0 335.6 C173.8 331.4 179.5 322.5 183.7 316.6 C187.9 310.7 191.8 305.6 196.0 300.0 C200.2 294.4 202.5 291.3 208.8 283.2 C215.1 275.1 226.9 259.7 233.8 251.5 C240.8 243.3 245.5 238.6 250.5 233.9 C255.5 229.2 258.9 225.7 263.9 223.1 C268.9 220.5 274.8 219.2 280.6 218.1 C286.4 217.0 292.8 215.7 298.9 216.4 C305.0 217.1 312.1 220.7 317.3 222.3 C322.5 223.9 323.7 224.3 330.0 225.9 C336.3 227.5 347.5 229.7 355.0 231.7 C362.5 233.7 368.4 236.2 375.1 238.1 C381.8 240.0 390.1 241.4 395.1 243.1 C400.1 244.8 401.6 245.3 405.2 248.4 C408.8 251.5 411.8 256.5 416.8 261.8 C421.8 267.1 430.2 276.3 435.2 280.2 C440.2 284.1 442.2 283.0 446.9 285.2 C451.6 287.4 458.0 290.7 463.6 293.5 C469.2 296.3 474.7 298.8 480.3 301.9 C485.9 305.0 491.4 308.4 497.0 311.9 C502.6 315.4 508.1 319.8 513.7 322.7 C519.3 325.6 524.8 327.3 530.4 329.4 C536.0 331.5 541.5 333.4 547.1 335.3 C552.7 337.2 558.2 339.4 563.8 341.1 C569.4 342.8 574.9 343.9 580.5 345.3 C586.1 346.7 591.6 348.5 597.2 349.5 C602.8 350.5 609.5 350.5 613.9 351.1 C618.3 351.8 619.1 352.5 623.5 353.4 C627.9 354.3 634.6 355.4 640.2 356.7 C645.8 357.9 651.3 359.1 656.9 360.9 C662.5 362.7 668.0 365.2 673.6 367.6 C679.2 370.0 684.7 372.5 690.3 375.1 C695.9 377.7 701.4 380.6 707.0 383.4 C712.6 386.2 718.1 389.0 723.7 391.8 C729.3 394.6 734.8 397.2 740.4 400.1 C746.0 403.0 751.5 406.2 757.1 409.3 C762.7 412.4 768.2 415.0 773.8 418.5 C779.4 422.0 784.9 426.3 790.5 430.2 C796.1 434.1 801.6 438.0 807.2 441.9 C812.8 445.8 818.3 449.7 823.9 453.6 C829.5 457.5 837.0 462.6 840.6 465.3 C844.2 468.0 842.1 466.7 845.4 470.0 C848.7 473.3 855.4 480.3 860.4 485.0 C865.4 489.7 869.8 492.8 875.4 498.4 C881.0 504.0 887.9 512.4 893.8 518.4 C899.6 524.4 904.9 529.3 910.5 534.3 C916.1 539.3 921.6 544.0 927.2 548.5 C932.8 553.0 938.3 557.4 943.9 561.0 C949.5 564.6 955.0 567.6 960.6 570.2 C966.2 572.9 971.7 574.4 977.3 576.9 C982.9 579.4 988.8 583.0 994.0 585.2 C999.2 587.4 1003.4 588.4 1008.6 590.0 C1013.8 591.6 1019.8 593.3 1025.4 595.0 C1031.0 596.7 1036.5 598.2 1042.1 600.0 C1047.7 601.8 1053.2 603.9 1058.8 605.9 C1064.4 607.9 1069.4 610.2 1075.5 611.7 C1081.6 613.2 1088.9 613.5 1095.2 614.9 C1101.5 616.3 1106.5 618.2 1113.5 619.9 C1120.5 621.6 1130.2 624.0 1136.9 625.3 C1143.6 626.6 1148.0 627.0 1153.6 627.5 C1159.2 628.0 1164.7 628.5 1170.3 628.3 C1175.9 628.1 1181.4 627.7 1187.0 626.1 C1192.6 624.5 1198.1 621.5 1203.7 618.6 C1209.3 615.7 1214.8 612.1 1220.4 608.6 C1226.0 605.1 1231.5 601.3 1237.1 597.7 C1242.7 594.1 1248.2 590.6 1253.8 586.9 C1259.4 583.1 1264.9 579.0 1270.5 575.2 C1276.1 571.4 1281.6 567.1 1287.2 564.3 C1292.8 561.5 1298.3 560.0 1303.9 558.5 C1309.5 557.0 1315.0 556.2 1320.6 555.2 C1326.2 554.2 1330.1 554.0 1337.3 552.6 C1344.5 551.2 1356.1 548.2 1363.6 546.9 C1371.0 545.6 1376.8 545.1 1382.0 544.7 C1387.2 544.3 1390.7 544.5 1395.1 544.7 C1399.5 544.9 1404.7 545.7 1408.2 546.0 C1411.7 546.3 1415.0 546.5 1416.3 546.6" stroke="#7fe6f0" stroke-width="1.3"/>
<path d="M0.0 454.4 C1.7 449.7 6.7 434.8 10.0 426.0 C13.3 417.2 16.9 408.8 20.0 401.8 C23.1 394.8 25.9 388.0 28.4 383.8 C30.9 379.6 32.0 380.4 35.1 376.7 C38.2 373.0 43.2 366.3 46.8 361.7 C50.4 357.1 53.5 353.6 56.8 349.2 C60.1 344.8 61.2 341.3 66.8 335.0 C72.4 328.7 85.2 317.2 90.2 311.6 C95.2 306.0 94.7 307.2 96.9 301.6 C99.1 296.0 100.2 289.6 103.5 278.2 C106.8 266.8 112.9 244.2 116.9 233.1 C121.0 222.0 125.0 214.9 127.8 211.4 C130.6 207.9 131.2 212.6 133.6 212.2 C136.0 211.8 138.7 210.3 142.0 208.9 C145.3 207.5 149.4 205.7 153.6 203.9 C157.8 202.1 163.1 199.7 167.0 198.0 C170.9 196.3 174.2 195.2 177.0 193.9 C179.8 192.7 179.8 193.0 183.7 190.5 C187.6 188.0 196.0 181.5 200.4 178.8 C204.8 176.1 206.7 175.6 210.0 174.5 C213.3 173.4 217.6 172.1 220.4 172.0 C223.2 171.9 224.8 172.9 227.0 174.0 C229.2 175.1 230.4 177.2 233.8 178.8 C237.2 180.4 242.2 180.9 247.2 183.8 C252.2 186.7 259.2 191.2 263.9 196.4 C268.6 201.6 271.7 208.6 275.6 214.7 C279.5 220.8 283.0 226.7 287.2 233.1 C291.4 239.5 297.0 247.3 300.6 253.2 C304.2 259.1 306.1 262.9 308.9 268.2 C311.7 273.5 314.5 280.2 317.3 284.9 C320.1 289.6 322.9 294.1 325.7 296.6 C328.5 299.1 332.0 299.3 334.0 299.9 C336.0 300.5 335.9 298.8 337.5 300.2 C339.1 301.6 341.3 306.1 343.5 308.4 C345.7 310.7 348.3 312.8 350.5 314.2 C352.7 315.6 354.6 315.9 356.6 316.7 C358.6 317.5 360.6 318.2 362.6 319.2 C364.6 320.2 366.6 321.4 368.6 322.5 C370.6 323.6 372.4 325.2 374.4 326.1 C376.4 327.0 378.4 326.6 380.6 327.6 C382.8 328.6 385.3 331.0 387.4 332.0 C389.5 333.0 391.4 332.6 393.4 333.4 C395.4 334.2 397.5 335.8 399.5 336.9 C401.5 338.0 403.5 338.9 405.5 340.1 C407.5 341.3 409.5 342.8 411.5 344.0 C413.5 345.2 415.3 346.3 417.5 347.3 C419.7 348.3 421.3 349.2 424.5 350.1 C427.7 351.0 433.5 352.2 436.5 352.5 C439.5 352.8 440.5 352.2 442.5 351.8 C444.5 351.4 446.6 350.9 448.6 350.3 C450.6 349.7 452.5 349.2 454.6 348.4 C456.7 347.6 458.3 346.9 461.4 345.6 C464.5 344.3 469.4 341.7 473.4 340.8 C477.4 339.9 481.3 340.5 485.5 340.4 C489.7 340.3 495.3 340.4 498.5 340.1 C501.7 339.9 502.1 339.1 504.5 338.9 C506.9 338.7 510.0 338.9 513.0 338.7 C516.0 338.5 519.7 338.6 522.6 337.8 C525.5 337.0 527.3 335.6 530.4 333.6 C533.5 331.7 537.5 328.1 541.4 326.1 C545.2 324.2 550.5 322.2 553.5 321.9 C556.5 321.6 557.5 323.3 559.5 324.4 C561.5 325.5 564.3 327.7 565.5 328.6 C566.7 329.5 564.6 328.4 566.7 330.0 C568.9 331.6 574.5 335.5 578.4 338.4 C582.3 341.3 586.1 344.4 590.1 347.5 C594.1 350.6 598.3 353.9 602.5 356.7 C606.7 359.5 612.3 362.5 615.5 364.2 C618.7 365.9 618.5 364.8 621.5 366.7 C624.5 368.6 629.5 373.1 633.5 375.9 C637.5 378.7 641.3 381.1 645.5 383.4 C649.7 385.7 654.5 386.6 658.6 389.8 C662.8 393.0 666.4 397.5 670.4 402.6 C674.4 407.7 678.3 414.2 682.5 420.2 C686.7 426.2 691.4 433.6 695.5 438.6 C699.6 443.6 702.8 445.8 707.0 450.2 C711.2 454.6 717.6 462.0 720.5 465.3 C723.4 468.6 721.3 467.4 724.3 470.0 C727.3 472.6 733.1 476.9 738.5 480.9 C743.9 484.9 751.7 491.4 756.9 494.2 C762.1 497.0 765.5 495.7 769.6 497.6 C773.7 499.6 777.4 503.7 781.4 505.9 C785.4 508.1 789.2 509.6 793.4 510.9 C797.6 512.2 802.3 512.7 806.5 513.8 C810.7 514.9 814.5 516.3 818.5 517.6 C822.5 518.9 826.3 520.7 830.5 521.8 C834.7 522.9 840.3 522.8 843.5 524.3 C846.7 525.8 846.5 528.4 849.5 531.0 C852.5 533.6 857.6 536.8 861.6 540.1 C865.6 543.4 870.5 546.8 873.6 551.0 C876.7 555.2 877.2 559.2 880.4 565.2 C883.5 571.2 888.3 579.8 892.5 586.9 C896.7 594.0 901.3 602.4 905.5 607.8 C909.7 613.2 913.5 616.2 917.5 619.5 C921.5 622.8 925.3 625.7 929.5 627.8 C933.7 629.9 939.5 631.6 942.6 632.0 C945.8 632.4 945.4 631.5 948.4 630.3 C951.4 629.0 956.4 626.0 960.4 624.5 C964.4 623.0 968.5 621.2 972.5 621.1 C976.5 621.0 980.3 623.1 984.5 624.0 C988.7 624.9 993.3 625.9 997.5 626.2 C1001.7 626.5 1005.5 626.5 1009.5 625.9 C1013.5 625.3 1018.3 623.6 1021.5 622.9 C1024.7 622.2 1026.3 621.3 1028.5 621.7 C1030.7 622.1 1031.5 624.1 1034.5 625.3 C1037.5 626.4 1042.4 628.3 1046.6 628.6 C1050.8 628.9 1054.3 627.4 1059.4 627.0 C1064.5 626.6 1072.8 627.0 1077.4 626.2 C1082.0 625.4 1083.6 623.7 1086.8 622.0 C1090.0 620.3 1092.9 617.5 1096.5 616.1 C1100.1 614.7 1103.3 614.2 1108.5 613.6 C1113.7 613.0 1121.3 613.2 1127.5 612.8 C1133.7 612.4 1139.2 611.8 1145.4 611.1 C1151.6 610.4 1159.3 610.0 1164.5 608.6 C1169.7 607.2 1172.5 605.1 1176.5 602.9 C1180.5 600.7 1184.3 597.6 1188.5 595.2 C1192.7 592.8 1197.3 590.4 1201.5 588.6 C1205.7 586.8 1210.6 585.8 1213.6 584.4 C1216.6 583.0 1217.6 583.4 1219.6 580.2 C1221.6 577.0 1223.6 569.1 1225.6 565.2 C1227.6 561.3 1229.3 559.0 1231.4 556.8 C1233.5 554.6 1236.2 553.6 1238.4 551.8 C1240.6 550.0 1242.4 548.8 1244.4 546.0 C1246.4 543.2 1248.5 538.3 1250.5 535.1 C1252.5 531.9 1254.5 531.0 1256.5 526.8 C1258.5 522.6 1260.5 515.0 1262.5 510.1 C1264.5 505.2 1266.3 501.4 1268.5 497.5 C1270.7 493.6 1273.3 489.6 1275.5 486.7 C1277.7 483.8 1279.6 481.7 1281.5 480.0 C1283.4 478.3 1285.1 477.2 1287.0 476.5 C1288.9 475.8 1290.9 475.2 1293.0 476.0 C1295.1 476.8 1297.8 478.7 1299.6 481.0 C1301.4 483.3 1301.8 487.0 1303.9 490.0 C1306.0 493.0 1309.5 496.1 1312.3 499.2 C1315.1 502.3 1317.8 505.3 1320.6 508.4 C1323.4 511.5 1326.2 515.1 1329.0 517.6 C1331.8 520.1 1334.5 521.5 1337.3 523.4 C1340.1 525.3 1342.9 527.2 1345.7 529.3 C1348.5 531.4 1351.5 534.0 1354.0 535.9 C1356.5 537.8 1358.0 539.1 1360.9 540.4 C1363.8 541.7 1367.9 542.3 1371.4 543.6 C1374.9 544.9 1378.0 545.8 1382.0 548.2 C1386.0 550.6 1390.7 554.6 1395.1 558.1 C1399.5 561.6 1404.8 566.5 1408.2 569.3 C1411.7 572.1 1414.5 574.0 1415.8 575.0" stroke="#ee5a55" stroke-width="1.1"/>
<path d="M0.0 481.1 C1.7 478.7 5.3 473.2 10.0 466.9 C14.7 460.6 22.3 450.4 28.4 443.5 C34.5 436.6 40.4 431.3 46.8 425.2 C53.2 419.1 61.2 411.7 66.8 406.8 C72.4 401.9 76.0 399.5 80.2 395.9 C84.4 392.3 89.0 388.2 91.9 385.1 C94.8 382.1 95.2 382.2 97.7 377.6 C100.2 373.0 103.8 363.8 106.9 357.5 C110.0 351.2 112.8 346.0 116.1 340.0 C119.4 334.0 124.0 325.3 126.9 321.6 C129.8 317.9 129.7 321.2 133.6 318.0 C137.5 314.8 145.0 306.5 150.3 302.4 C155.6 298.3 161.1 296.3 165.3 293.2 C169.5 290.1 169.6 288.8 175.4 284.0 C181.2 279.2 192.9 270.1 200.4 264.5 C207.9 258.9 214.8 253.1 220.4 250.1 C226.0 247.1 229.6 247.7 233.8 246.5 C238.0 245.3 242.2 243.7 245.5 243.1 C248.8 242.5 249.6 242.5 253.8 243.1 C258.0 243.7 262.7 243.6 270.5 246.5 C278.3 249.4 292.8 256.1 300.6 260.7 C308.4 265.3 312.4 270.5 317.3 274.0 C322.2 277.5 325.1 279.2 330.0 281.8 C334.9 284.4 341.1 287.1 346.7 289.3 C352.3 291.5 357.8 293.1 363.4 295.2 C369.0 297.3 374.5 299.8 380.1 301.9 C385.7 304.0 391.2 305.5 396.8 307.7 C402.4 309.9 407.9 313.0 413.5 315.2 C419.1 317.4 425.2 319.7 430.2 321.1 C435.2 322.5 438.0 323.2 443.6 323.6 C449.2 324.0 457.5 323.6 463.6 323.6 C469.7 323.7 474.7 323.6 480.3 323.9 C485.9 324.2 491.4 325.3 497.0 325.6 C502.6 325.9 508.1 325.8 513.7 325.6 C519.3 325.4 525.4 325.0 530.4 324.4 C535.4 323.8 539.9 322.6 543.8 321.9 C547.7 321.2 550.5 319.9 553.8 320.2 C557.1 320.5 559.3 321.9 563.8 323.6 C568.2 325.3 574.9 328.1 580.5 330.3 C586.1 332.5 591.6 334.7 597.2 336.9 C602.8 339.1 608.3 341.5 613.9 343.6 C619.5 345.7 626.2 347.7 630.6 349.5 C635.0 351.3 635.8 352.3 640.2 354.2 C644.6 356.1 652.5 358.7 656.9 360.9 C661.3 363.1 662.7 364.4 666.9 367.6 C671.1 370.8 676.7 375.8 682.0 380.1 C687.3 384.4 693.1 389.2 698.7 393.5 C704.3 397.8 711.2 402.9 715.4 406.0 C719.6 409.1 719.5 409.3 723.7 412.2 C727.9 415.1 734.8 419.7 740.4 423.5 C746.0 427.3 752.6 432.4 757.1 435.2 C761.6 438.0 762.9 437.7 767.1 440.2 C771.3 442.7 777.8 447.4 782.2 450.2 C786.7 453.0 789.6 454.9 793.8 456.9 C798.0 458.9 802.2 459.9 807.2 462.3 C812.2 464.7 818.3 468.5 823.9 471.1 C829.5 473.7 835.0 474.9 840.6 477.8 C846.2 480.7 852.3 485.4 857.3 488.6 C862.3 491.8 868.0 495.1 870.7 497.0 C873.5 498.9 871.3 497.0 873.8 500.1 C876.3 503.2 881.3 510.9 885.5 515.9 C889.7 520.9 894.1 525.5 898.8 530.1 C903.5 534.7 909.1 539.6 913.8 543.5 C918.5 547.4 922.7 550.3 927.2 553.5 C931.7 556.7 936.2 560.5 940.6 562.7 C945.0 564.9 948.4 565.6 953.4 566.9 C958.4 568.1 965.2 568.7 970.6 570.2 C976.0 571.7 980.5 574.1 985.7 576.0 C990.9 577.9 996.3 580.1 1002.0 581.6 C1007.7 583.1 1014.8 583.9 1020.0 585.2 C1025.2 586.5 1029.0 587.9 1033.4 589.4 C1037.9 590.9 1042.0 593.1 1046.7 594.4 C1051.4 595.6 1056.8 596.1 1061.8 596.9 C1066.8 597.7 1071.2 599.2 1076.8 599.4 C1082.4 599.6 1088.0 598.2 1095.2 598.2 C1102.4 598.2 1111.9 598.8 1120.2 599.1 C1128.5 599.4 1137.0 599.8 1145.3 599.9 C1153.6 600.0 1163.9 600.5 1170.3 599.9 C1176.7 599.3 1178.1 597.4 1183.7 596.1 C1189.3 594.8 1197.9 593.2 1203.7 591.9 C1209.5 590.6 1213.7 590.6 1218.7 588.2 C1223.7 585.8 1228.0 581.8 1233.8 577.7 C1239.6 573.6 1247.7 568.9 1253.8 563.5 C1259.9 558.1 1265.5 550.4 1270.5 545.1 C1275.5 539.8 1280.4 534.6 1283.9 531.8 C1287.4 529.0 1288.1 528.7 1291.4 528.4 C1294.7 528.1 1299.8 529.2 1303.9 529.8 C1308.1 530.4 1312.0 530.7 1316.3 531.8 C1320.5 532.9 1324.5 535.0 1329.4 536.4 C1334.3 537.8 1341.3 539.2 1345.7 540.1 C1350.1 541.0 1351.9 541.0 1355.7 541.7 C1359.5 542.4 1364.4 543.3 1368.8 544.3 C1373.2 545.3 1377.6 546.4 1382.0 547.6 C1386.4 548.8 1390.7 550.0 1395.1 551.5 C1399.5 553.0 1404.6 555.4 1408.2 556.8 C1411.8 558.2 1415.4 559.5 1416.8 560.1" stroke="#4c74ad" stroke-width="2.8"/>
<path d="M0.0 319.1 C5.9 318.6 23.5 317.3 35.6 316.3 C47.7 315.3 62.3 313.8 72.5 312.9 C82.7 312.0 90.7 312.0 96.9 310.8 C103.2 309.6 105.0 307.5 110.0 305.5 C115.0 303.5 121.1 300.4 126.9 298.6 C132.7 296.9 138.6 296.1 145.0 295.0 C151.4 293.9 156.1 293.7 165.3 291.9 C174.5 290.1 189.0 286.3 200.4 284.0 C211.8 281.7 223.2 279.6 233.8 278.2 C244.4 276.8 252.8 275.7 263.9 275.7 C275.0 275.7 289.6 277.0 300.6 278.2 C311.6 279.4 319.5 281.1 330.0 282.7 C340.5 284.3 352.3 286.2 363.4 287.7 C374.5 289.2 385.7 290.2 396.8 291.5 C407.9 292.8 419.1 294.6 430.2 295.5 C441.3 296.4 452.5 296.5 463.6 297.2 C474.7 297.9 485.9 299.2 497.0 299.7 C508.1 300.2 519.3 299.9 530.4 300.2 C541.5 300.5 552.7 300.4 563.8 301.4 C574.9 302.4 586.1 304.2 597.2 306.0 C608.3 307.8 618.1 309.4 630.6 311.9 C643.1 314.4 660.4 318.1 672.0 321.0 C683.6 323.9 691.7 327.0 700.3 329.5 C708.9 332.0 714.2 333.2 723.7 335.8 C733.2 338.4 746.0 342.2 757.1 345.4 C768.2 348.6 779.4 351.9 790.5 355.0 C801.6 358.1 815.0 361.7 823.9 364.2 C832.8 366.7 836.2 367.5 843.9 370.1 C851.6 372.7 862.9 376.6 870.0 379.7 C877.1 382.8 880.6 385.3 886.7 388.4 C892.8 391.5 899.7 395.2 906.7 398.4 C913.7 401.6 921.5 404.9 928.5 407.6 C935.5 410.3 942.7 412.9 948.5 414.8 C954.3 416.7 956.5 416.7 963.5 418.9 C970.5 421.1 982.1 425.4 990.2 428.1 C998.3 430.8 1004.8 432.9 1012.0 435.1 C1019.2 437.3 1027.9 439.7 1033.7 441.5 C1039.5 443.3 1039.5 443.8 1047.0 446.0 C1054.5 448.2 1068.8 452.3 1078.8 454.8 C1088.8 457.3 1098.2 459.0 1107.1 461.0 C1116.0 463.0 1124.4 465.1 1132.2 466.9 C1140.0 468.7 1147.0 470.5 1153.9 471.9 C1160.9 473.3 1168.3 474.7 1173.9 475.5 C1179.5 476.3 1182.4 476.3 1187.3 476.9 C1192.2 477.5 1198.0 478.5 1203.5 479.0 C1209.0 479.5 1215.0 479.9 1220.2 480.0 C1225.5 480.1 1229.4 479.8 1235.0 479.5 C1240.6 479.2 1247.7 478.8 1253.6 478.2 C1259.5 477.6 1264.7 476.3 1270.3 475.7 C1275.9 475.1 1281.4 474.7 1287.0 474.8 C1292.6 474.9 1298.1 475.9 1303.7 476.5 C1309.3 477.1 1314.8 477.7 1320.4 478.7 C1326.0 479.7 1330.7 481.4 1337.3 482.5 C1343.9 483.6 1352.8 484.6 1360.0 485.3 C1367.2 486.1 1373.7 486.0 1380.6 487.0 C1387.5 488.0 1395.3 489.9 1401.3 491.2 C1407.2 492.5 1413.8 494.4 1416.3 495.0" stroke="#353c48" stroke-width="2.8"/>
</g>
<line x1="0" y1="626.5" x2="1907" y2="626.5" stroke="#089981" stroke-width="1" stroke-dasharray="1 2" shape-rendering="crispEdges"/>
<rect x="4" y="5" width="282" height="24.3" fill="#fff" fill-opacity="0.5"/>
<circle cx="22.2" cy="13.8" r="5.9" fill="#0f8f90"/>
<path d="M19.6 12.4 L22.4 10.9 L25.6 13.2 L23.4 16.6 L20.2 15.6z" fill="#b5f0ee"/>
<path d="M21.2 12.2 L23.2 12 L23.4 13.6 L22 14.6 L21 13.6z" fill="#1a9596"/>
<circle cx="15.9" cy="19.9" r="7.1" fill="#fff"/>
<circle cx="15.9" cy="19.9" r="5.9" fill="#ea2520"/>
<path d="M13.7 17.3l1.1 1h2.2l1.1-1l.4 2.9l-2.6 1.2l-2.6-1.2z" fill="#f6a02c"/>
<path d="M13 20.3l2.9 1l2.9-1l-.9 1.9l-2 1.1l-2-1.1z" fill="#fdebd8"/>
<g fill="#131722" font-size="15.4">
<text x="32.0" y="22.7" textLength="31.2" lengthAdjust="spacingAndGlyphs">SHIB</text>
<text x="69.8" y="22.7" textLength="4.6" lengthAdjust="spacingAndGlyphs">/</text>
<text x="81.8" y="22.7" textLength="63.2" lengthAdjust="spacingAndGlyphs">TetherUS</text>
<circle cx="151.3" cy="17.5" r="1.25"/>
<text x="158.2" y="22.7" textLength="17.2" lengthAdjust="spacingAndGlyphs">1D</text>
<circle cx="181.7" cy="17.5" r="1.25"/>
<text x="188.2" y="22.7" textLength="61.2" lengthAdjust="spacingAndGlyphs">BINANCE</text>
</g>
<circle cx="272.9" cy="17" r="8.5" fill="#089981" fill-opacity="0.12"/><circle cx="272.9" cy="17" r="4" fill="#089981"/>
<rect x="10.9" y="31.6" width="30.6" height="20" rx="3.5" fill="#fff" stroke="#d9dbe1" stroke-width="1"/>
<path d="M16.9 39.6l3.8 3.6l3.8-3.6" fill="none" stroke="#131722" stroke-width="1.5"/>
<text x="30.2" y="45.8" font-size="12.3" fill="#131722">2</text>
<g fill="#131722" font-size="12">
<text x="1977.2" y="44.4" textLength="61" lengthAdjust="spacingAndGlyphs">0.00001450</text>
<text x="1977.2" y="86.6" textLength="61" lengthAdjust="spacingAndGlyphs">0.00001400</text>
<text x="1977.2" y="128.7" textLength="61" lengthAdjust="spacingAndGlyphs">0.00001350</text>
<text x="1977.2" y="170.8" textLength="61" lengthAdjust="spacingAndGlyphs">0.00001300</text>
<text x="1977.2" y="213.0" textLength="61" lengthAdjust="spacingAndGlyphs">0.00001250</text>
<text x="1977.2" y="255.2" textLength="61" lengthAdjust="spacingAndGlyphs">0.00001200</text>
<text x="1977.2" y="297.3" textLength="61" lengthAdjust="spacingAndGlyphs">0.00001150</text>
<text x="1977.2" y="339.4" textLength="61" lengthAdjust="spacingAndGlyphs">0.00001100</text>
<text x="1977.2" y="381.6" textLength="61" lengthAdjust="spacingAndGlyphs">0.00001050</text>
<text x="1977.2" y="423.7" textLength="61" lengthAdjust="spacingAndGlyphs">0.00001000</text>
<text x="1977.2" y="465.9" textLength="61" lengthAdjust="spacingAndGlyphs">0.00000950</text>
<text x="1977.2" y="508.0" textLength="61" lengthAdjust="spacingAndGlyphs">0.00000900</text>
<text x="1977.2" y="550.2" textLength="61" lengthAdjust="spacingAndGlyphs">0.00000850</text>
<text x="1977.2" y="592.3" textLength="61" lengthAdjust="spacingAndGlyphs">0.00000800</text>
<text x="1977.2" y="676.6" textLength="61" lengthAdjust="spacingAndGlyphs">0.00000700</text>
<text x="1977.2" y="718.8" textLength="61" lengthAdjust="spacingAndGlyphs">0.00000650</text>
<text x="1977.2" y="760.9" textLength="61" lengthAdjust="spacingAndGlyphs">0.00000600</text>
<text x="1977.2" y="803.1" textLength="61" lengthAdjust="spacingAndGlyphs">0.00000550</text>
<text x="1977.2" y="845.2" textLength="61" lengthAdjust="spacingAndGlyphs">0.00000500</text>
<text x="1977.2" y="887.4" textLength="61" lengthAdjust="spacingAndGlyphs">0.00000450</text>
<text x="1977.2" y="929.5" textLength="61" lengthAdjust="spacingAndGlyphs">0.00000400</text>
<text x="1977.2" y="971.7" textLength="61" lengthAdjust="spacingAndGlyphs">0.00000350</text>
<text x="1977.2" y="1013.8" textLength="61" lengthAdjust="spacingAndGlyphs">0.00000300</text>
<text x="1977.2" y="1056.0" textLength="61" lengthAdjust="spacingAndGlyphs">0.00000250</text>
</g>
<rect x="1973.5" y="5.2" width="70.6" height="25.1" rx="4" fill="#fff" stroke="#e3e5ea" stroke-width="1"/>
<text x="1977" y="22" font-size="12.8" fill="#131722" textLength="27.5" lengthAdjust="spacingAndGlyphs">USDT</text>
<path d="M2035 17.6l2.5 2.3l2.5-2.3" fill="none" stroke="#131722" stroke-width="1.4"/>
<path d="M1909 618h59v17h-59a2 2 0 0 1-2-2v-13a2 2 0 0 1 2-2z" fill="#089981"/>
<path d="M1969 618h73a2 2 0 0 1 2 2v27a2 2 0 0 1-2 2h-73z" fill="#089981"/>
<text x="1911" y="631.2" font-size="11.6" font-weight="bold" fill="#fff" textLength="51.2" lengthAdjust="spacingAndGlyphs">SHIBUSDT</text>
<text x="1977" y="631.2" font-size="11.8" font-weight="bold" fill="#fff" textLength="61" lengthAdjust="spacingAndGlyphs">0.00000755</text>
<text x="1977.6" y="644.7" font-size="11.8" font-weight="bold" fill="#fff" fill-opacity="0.8" textLength="45.5" lengthAdjust="spacingAndGlyphs">14:55:07</text>
<path d="M0.5 1066V4a3.5 3.5 0 0 1 3.5-3.5H2046.5a2 2 0 0 1 2 2" fill="none" stroke="#d4d6dc" stroke-width="1"/>
<path d="M2048.5 2.5V1066" fill="none" stroke="#e9eaee" stroke-width="1"/>
<rect x="0" y="1064" width="2049" height="1" fill="#dfe1e6" shape-rendering="crispEdges"/>
</svg></body></html>
